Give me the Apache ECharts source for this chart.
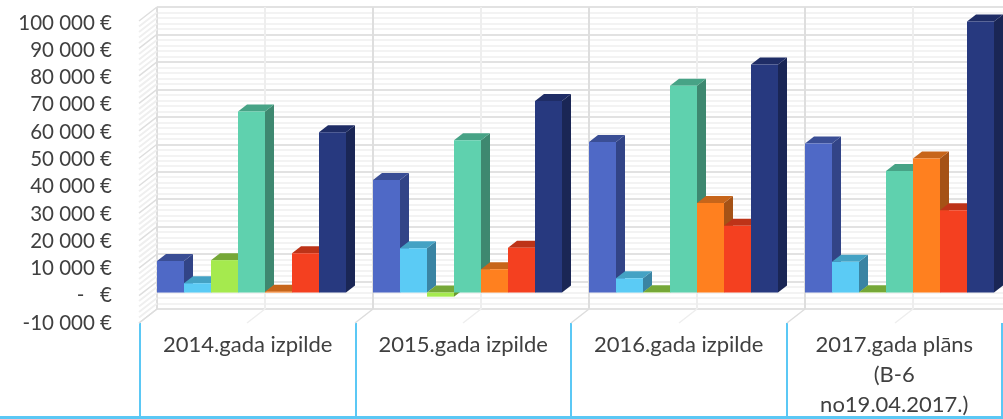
<!DOCTYPE html>
<html>
<head>
<meta charset="utf-8">
<style>
  html, body { margin: 0; padding: 0; background: #fff; overflow: hidden; }
  #chart { width: 1003px; height: 419px; filter: blur(0.6px); }
</style>
<script src="https://cdn.jsdelivr.net/npm/echarts@6/dist/echarts.min.js"></script>
</head>
<body>
<div id="chart"></div>
<script>
  var categories = ['2014.gada izpilde', '2015.gada izpilde', '2016.gada izpilde', '2017.gada plāns\n(B-6\nno19.04.2017.)']
  var yTicks = [-10000, 0, 10000, 20000, 30000, 40000, 50000, 60000, 70000, 80000, 90000, 100000]
  var yTickLabels = ['-10 000 €', '-   €', '10 000 €', '20 000 €', '30 000 €', '40 000 €', '50 000 €', '60 000 €', '70 000 €', '80 000 €', '90 000 €', '100 000 €']

  var blueValues = [11500, 41000, 54800, 54300]
  var cyanValues = [3400, 16100, 5200, 11200]
  var greenValues = [11800, -1500, 100, 100]
  var tealValues = [65900, 55500, 75300, 44300]
  var orangeValues = [300, 8500, 32600, 48800]
  var redValues = [14300, 16300, 24300, 30000]
  var navyValues = [58400, 69800, 83100, 98700]

  var chart = echarts.init(document.getElementById('chart'), null, { renderer: 'canvas' })

  var DEPTH_X = 18, DEPTH_Y = 14   // side wall
  var BAR_X = 9, BAR_Y = 7         // bar depth
  var FRONT_DY = 11                // bars stand in front of the back wall
  var SLOTS = 8                    // 7 bars + 1 bar gap

  // one 3d bar: front, top and side faces
  function barSeries(name, values, slot, front, top, side) {
    return {
      name: name,
      type: 'custom',
      xAxisIndex: 0,
      yAxisIndex: 0,
      silent: true,
      clip: false,
      data: values.map(function (v, i) { return [i, v] }),
      renderItem: function (params, api) {
        var c = api.value(0), v = api.value(1)
        var band = api.size([1, 0])[0]
        var w = band / SLOTS
        var x0 = api.coord([c, 0])[0] - band / 2 + slot * w
        var x1 = x0 + w
        var yZero = api.coord([c, 0])[1] + FRONT_DY
        var yVal = api.coord([c, v])[1] + FRONT_DY
        var yTop = Math.min(yZero, yVal), yBottom = Math.max(yZero, yVal)
        return {
          type: 'group',
          children: [
            { type: 'polygon', shape: { points: [[x1, yTop], [x1 + BAR_X, yTop - BAR_Y], [x1 + BAR_X, yBottom - BAR_Y], [x1, yBottom]] }, style: { fill: side } },
            { type: 'polygon', shape: { points: [[x0, yTop], [x0 + BAR_X, yTop - BAR_Y], [x1 + BAR_X, yTop - BAR_Y], [x1, yTop]] }, style: { fill: top } },
            { type: 'rect', shape: { x: x0, y: yTop, width: w, height: yBottom - yTop }, style: { fill: front } }
          ]
        }
      }
    }
  }

  // hatched left wall, one segment per 10 000 step
  var sideWall = {
    type: 'custom',
    xAxisIndex: 0,
    yAxisIndex: 0,
    silent: true,
    clip: false,
    data: yTicks.map(function (t) { return [0, t] }),
    renderItem: function (params, api) {
      var v = api.value(1)
      var band = api.size([1, 0])[0]
      var p = api.coord([0, v])
      var x = p[0] - band / 2
      var y = p[1]
      var step = api.size([0, 10000])[1] / 5
      var children = [{
        type: 'line',
        shape: { x1: x, y1: y, x2: x - DEPTH_X, y2: y + DEPTH_Y },
        style: { stroke: '#dedede', lineWidth: 1.5 }
      }]
      if (v < 100000) {
        for (var k = 1; k < 5; k++) {
          children.push({
            type: 'line',
            shape: { x1: x, y1: y - k * step, x2: x - DEPTH_X, y2: y - k * step + DEPTH_Y },
            style: { stroke: '#efefef', lineWidth: 2 }
          })
        }
      }
      return { type: 'group', children: children }
    }
  }

  // floor ticks and the lighter mid-band lines
  var floorLines = {
    type: 'custom',
    xAxisIndex: 0,
    yAxisIndex: 0,
    silent: true,
    clip: false,
    data: categories.map(function (c, i) { return [i, -10000] }),
    renderItem: function (params, api) {
      var p = api.coord([api.value(0), -10000])
      var top = api.coord([api.value(0), 100000])
      var band = api.size([1, 0])[0]
      var left = p[0] - band / 2
      return {
        type: 'group',
        children: [
          { type: 'line', shape: { x1: p[0], y1: top[1], x2: p[0], y2: p[1] }, style: { stroke: '#eeeeee', lineWidth: 2 } },
          { type: 'line', shape: { x1: p[0], y1: p[1], x2: p[0] - DEPTH_X, y2: p[1] + DEPTH_Y }, style: { stroke: '#eeeeee', lineWidth: 1.5 } },
          { type: 'line', shape: { x1: left, y1: p[1], x2: left - DEPTH_X, y2: p[1] + DEPTH_Y }, style: { stroke: '#dddddd', lineWidth: 1.5 } }
        ]
      }
    }
  }

  chart.setOption({
    animation: false,
    backgroundColor: '#ffffff',
    textStyle: { fontFamily: 'Lato' },
    grid: [
      { left: 157, top: 7, width: 864, height: 302, outerBoundsMode: 'none' },   // back wall
      { left: 140, top: 23, width: 862, height: 300, outerBoundsMode: 'none' }   // front edge, holds the labels and table ticks
    ],
    xAxis: [{
      type: 'category',
      gridIndex: 0,
      data: categories,
      axisLine: { show: false },
      axisTick: { show: false },
      axisLabel: { show: false },
      splitLine: { show: true, lineStyle: { color: '#dedede', width: 2 } }
    }, {
      type: 'category',
      gridIndex: 1,
      data: categories,
      axisLine: { show: false, onZero: false },
      axisTick: { show: true, length: 94, lineStyle: { color: '#5bc8f5', width: 2 } },
      axisLabel: { color: '#404040', fontSize: 22, fontFamily: 'Lato', margin: 7, lineHeight: 30, verticalAlign: 'top', interval: 0 }
    }],
    yAxis: [{
      type: 'value',
      gridIndex: 0,
      min: -10000,
      max: 100000,
      interval: 10000,
      axisLine: { show: false },
      axisTick: { show: false },
      axisLabel: { show: false },
      splitLine: { show: true, lineStyle: { color: '#e2e2e2', width: 2 } },
      minorTick: { show: false, splitNumber: 5 },
      minorSplitLine: { show: true, lineStyle: { color: '#f3f3f3', width: 2 } }
    }, {
      type: 'value',
      gridIndex: 1,
      min: -10000,
      max: 100000,
      interval: 10000,
      axisLine: { show: false },
      axisTick: { show: false },
      splitLine: { show: false },
      axisLabel: {
        color: '#404040',
        fontSize: 20.5,
        fontFamily: 'Lato',
        margin: 28,
        formatter: function (v) { return yTickLabels[yTicks.indexOf(v)] }
      }
    }],
    graphic: [{
      type: 'rect',
      shape: { x: 0, y: 416, width: 1003, height: 3 },
      style: { fill: '#5bc8f5' }
    }],
    series: [
      sideWall,
      floorLines,
      barSeries('blue', blueValues, 0, '#4f69c6', '#3a4e95', '#324487'),
      barSeries('cyan', cyanValues, 1, '#5bcbf5', '#44a2c4', '#3a84a3'),
      barSeries('green', greenValues, 2, '#a5ea4e', '#76a838', '#6a9a30'),
      barSeries('teal', tealValues, 3, '#5fd1ae', '#47a386', '#3e8870'),
      barSeries('orange', orangeValues, 4, '#ff801f', '#c7651a', '#a55216'),
      barSeries('red', redValues, 5, '#f44020', '#bd3318', '#a82e14'),
      barSeries('navy', navyValues, 6, '#27397f', '#1f2d66', '#1a2655')
    ]
  })
</script>
</body>
</html>
